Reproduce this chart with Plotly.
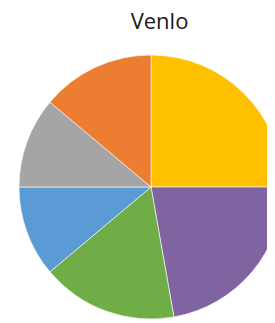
import plotly.graph_objects as go

labels = ["Cat 1", "Cat 2", "Cat 3", "Cat 4", "Cat 5", "Cat 6"]
values = [9, 8, 6, 4, 4, 5]
colors = ["#FFC000", "#8064A2", "#70AD47", "#5B9BD5", "#A5A5A5", "#ED7D31"]

# page body has an 8px default margin; compensate in the figure geometry
W, H = 286, 311

fig = go.Figure(go.Pie(
    labels=labels,
    values=values,
    sort=False,
    direction="clockwise",
    rotation=0,
    textinfo="none",
    hoverinfo="label+value+percent",
    marker=dict(colors=colors, line=dict(color="rgba(255,255,255,0.6)", width=1)),
    showlegend=False,
))

fig.update_layout(
    width=W, height=H,
    margin=dict(l=0, r=0, t=47, b=0),
    paper_bgcolor="white",
    plot_bgcolor="white",
    title=dict(text="Venlo", x=151.5 / W, xanchor="center", xref="paper",
               y=1 - 13 / H, yref="container", yanchor="middle",
               font=dict(family="Open Sans", size=22, color="#1a1a1a")),
)

fig.write_html("out.html")
